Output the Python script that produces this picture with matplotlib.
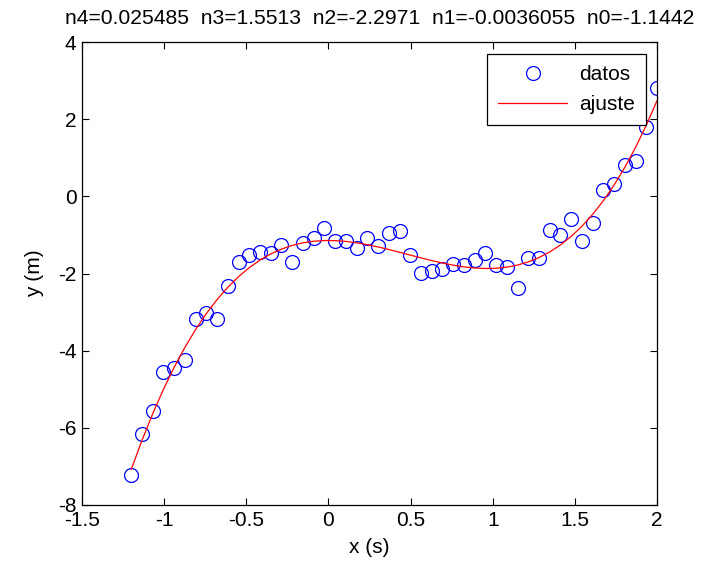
import numpy as np
import matplotlib
matplotlib.use("Agg")
import matplotlib.pyplot as plt

plt.rcParams['font.family'] = ['Liberation Sans', 'DejaVu Sans']

# measured time points (s)
x_data = [-1.2, -1.1347, -1.0694, -1.0041, -0.9388, -0.8735, -0.8082, -0.7429,
          -0.6776, -0.6122, -0.5469, -0.4816, -0.4163, -0.3510, -0.2857, -0.2204,
          -0.1551, -0.0898, -0.0245, 0.0408, 0.1061, 0.1714, 0.2367, 0.3020,
          0.3673, 0.4327, 0.4980, 0.5633, 0.6286, 0.6939, 0.7592, 0.8245,
          0.8898, 0.9551, 1.0204, 1.0857, 1.1510, 1.2163, 1.2816, 1.3469,
          1.4122, 1.4776, 1.5429, 1.6082, 1.6735, 1.7388, 1.8041, 1.8694,
          1.9347, 2.0]

# measured positions (m)
y_data = [-7.21, -6.15, -5.57, -4.54, -4.46, -4.24, -3.17, -3.03,
          -3.18, -2.33, -1.71, -1.53, -1.44, -1.48, -1.26, -1.71,
          -1.22, -1.09, -0.83, -1.17, -1.17, -1.35, -1.09, -1.30,
          -0.96, -0.91, -1.53, -1.98, -1.93, -1.89, -1.75, -1.79,
          -1.66, -1.48, -1.79, -1.84, -2.37, -1.61, -1.59, -0.86,
          -1.00, -0.59, -1.16, -0.68, 0.16, 0.33, 0.82, 0.91,
          1.79, 2.81]

# fit coefficients shown in the title (n4 .. n0)
coefs = [0.025485, 1.5513, -2.2971, -0.0036055, -1.1442]

x_data = np.array(x_data)
y_fit = np.polyval(coefs, x_data)

fig = plt.figure(figsize=(7.16, 5.64), dpi=100)
ax = fig.add_axes([82/716, 1-505/564, (657-82)/716, (505-42)/564])

ax.plot(x_data, y_data, 'o', mfc='none', mec='blue', ms=10, mew=0.9, label='datos')
ax.plot(x_data, y_fit, '-', color='red', lw=0.9, label='ajuste')

ax.set_xlim(-1.5, 2)
ax.set_ylim(-8, 4)
ax.set_xticks(np.arange(-1.5, 2.01, 0.5))
ax.set_xticklabels(['-1.5', '-1', '-0.5', '0', '0.5', '1', '1.5', '2'])
ax.set_yticks(np.arange(-8, 4.01, 2))
ax.set_yticklabels(['-8', '-6', '-4', '-2', '0', '2', '4'])
ax.tick_params(direction='in', top=True, right=True, length=5, width=0.8,
               labelsize=15, pad=4)
for s in ax.spines.values():
    s.set_linewidth(0.9)

ax.set_xlabel('x (s)', fontsize=15, labelpad=6)
ax.set_ylabel('y (m)', fontsize=15, labelpad=10)
title = 'n4=%g  n3=%g  n2=%g  n1=%g  n0=%g' % tuple(coefs)
ax.text(380/716, 1-18/564, title, transform=fig.transFigure, fontsize=15.2,
        ha='center', va='center')

leg = ax.legend(loc='upper right', bbox_to_anchor=(646/716, 1-54/564),
                bbox_transform=fig.transFigure, borderaxespad=0,
                fontsize=15, fancybox=False, edgecolor='black', framealpha=1,
                borderpad=0.55, handlelength=3.3, handletextpad=0.55,
                labelspacing=0.5)
leg.get_frame().set_linewidth(0.9)

fig.savefig('out.png', dpi=100)
